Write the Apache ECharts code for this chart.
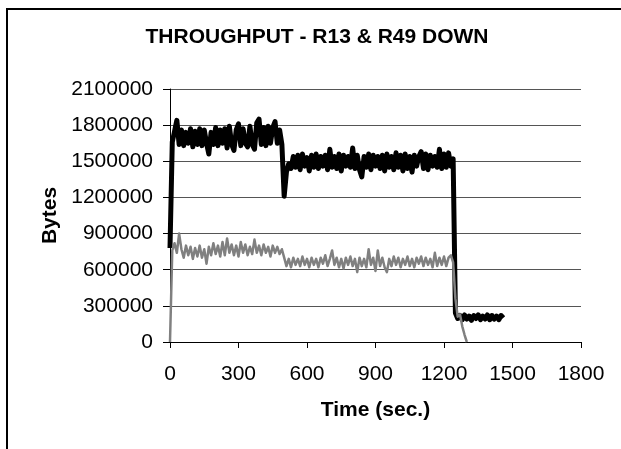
<!DOCTYPE html>
<html>
<head>
<meta charset="utf-8">
<script src="https://cdn.jsdelivr.net/npm/echarts@6/dist/echarts.min.js"></script>
<style>
  html, body { margin: 0; padding: 0; background: #fff; }
  #chart { width: 621px; height: 449px; }
</style>
</head>
<body>
<div id="chart"></div>
<script>
// 数据：每10秒一个采样点
var step = 10;
var xTicks = [0, 300, 600, 900, 1200, 1500, 1800];
var yTicks = [0, 300000, 600000, 900000, 1200000, 1500000, 1800000, 2100000];

// 黑线 (0 - 1460 s)，单位：千字节
var blackValues = [
    780,
    1660, 1750, 1840, 1640, 1760, 1630, 1740, 1650, 1770, 1620,
    1750, 1640, 1770, 1630, 1760, 1650, 1560, 1740, 1640, 1780,
    1630, 1760, 1650, 1770, 1610, 1790, 1640, 1590, 1760, 1810,
    1630, 1770, 1650, 1620, 1790, 1640, 1600, 1820, 1850, 1640,
    1780, 1630, 1790, 1650, 1780, 1830, 1650, 1760, 1640,
    1210, 1410, 1480,
    1440, 1540, 1450, 1550, 1430, 1560, 1460, 1530, 1420, 1550,
    1450, 1560, 1440, 1540, 1460, 1550, 1430, 1600, 1450, 1540,
    1440, 1560, 1420, 1550, 1460, 1540, 1450, 1610, 1440, 1550,
    1430, 1370, 1540, 1450, 1560, 1430, 1550, 1460, 1540, 1440,
    1550, 1420, 1560, 1450, 1540, 1430, 1570, 1450, 1550, 1420,
    1560, 1440, 1540, 1410, 1550, 1460, 1540, 1580, 1440, 1560,
    1430, 1550, 1460, 1540, 1450, 1600, 1440, 1560,
    1450, 1570, 1460, 1520,
    240, 195,
    220, 185, 225, 190, 215, 180, 220, 195, 225, 185,
    215, 190, 225, 185, 220, 190, 215, 185, 220, 200
];

// 灰线 (0 - 1300 s)，单位：千字节
var grayValues = [
    0, 760, 820, 740, 900, 770,
    700, 800, 720, 790, 690, 780, 710, 800, 700, 770,
    650, 790, 720, 820, 730, 800, 710, 830, 720, 860,
    740, 810, 720, 800, 710, 830, 740, 810, 720, 790,
    730, 850, 740, 800, 720, 810, 740, 790, 710, 800,
    740, 790, 730, 770,
    700, 630, 690,
    620, 700, 640, 690, 630, 710, 640, 690, 620, 700,
    640, 690, 620, 700, 650, 720, 630, 690, 760, 640,
    700, 620, 690, 610, 700, 640, 710, 630, 690, 580,
    700, 630, 690, 620, 770, 640, 700, 590, 760, 630,
    700, 620, 580, 690, 630, 710, 640, 700, 620, 690,
    640, 710, 630, 690, 620, 700, 650, 710, 630, 700,
    640, 690, 620, 740, 630, 700, 640, 710, 630, 700,
    720, 660, 360, 210, 230, 130, 60, 0
];

function toPairs(values) {
    var out = [];
    for (var i = 0; i < values.length; i++) {
        out.push([i * step, values[i] * 1000]);
    }
    return out;
}

var font = 'Liberation Sans, Arial, sans-serif';
var myChart = echarts.init(document.getElementById('chart'));

var option = {
    animation: false,
    backgroundColor: '#fff',
    graphic: [
        {
            type: 'rect',
            shape: { x: 7, y: 9, width: 1000, height: 1000 },
            style: { fill: 'none', stroke: '#000', lineWidth: 2 },
            silent: true
        },
        {
            type: 'text',
            x: 317,
            y: 37,
            style: {
                text: 'THROUGHPUT - R13 & R49 DOWN',
                font: 'bold 21px ' + font,
                fill: '#000',
                align: 'center',
                verticalAlign: 'middle'
            }
        }
    ],
    grid: { left: 170, right: 40, top: 89, bottom: 107 },
    xAxis: {
        type: 'value',
        min: xTicks[0],
        max: xTicks[xTicks.length - 1],
        interval: 300,
        name: 'Time (sec.)',
        nameLocation: 'middle',
        nameGap: 58,
        nameTextStyle: { fontFamily: font, fontSize: 21, fontWeight: 'bold', color: '#000' },
        axisLine: { lineStyle: { color: '#000', width: 1 } },
        axisTick: { inside: false, length: 6, lineStyle: { color: '#000' } },
        axisLabel: {
            fontFamily: font, fontSize: 21, color: '#000', margin: 22,
            formatter: function (v) { return String(v); }
        },
        splitLine: { show: false }
    },
    yAxis: {
        type: 'value',
        min: yTicks[0],
        max: yTicks[yTicks.length - 1],
        interval: 300000,
        name: 'Bytes',
        nameLocation: 'middle',
        nameRotate: 90,
        nameGap: 106,
        nameTextStyle: { fontFamily: font, fontSize: 21, fontWeight: 'bold', color: '#000' },
        axisLine: { show: true, lineStyle: { color: '#000', width: 1 } },
        axisTick: { show: true, length: 7, lineStyle: { color: '#000' } },
        axisLabel: {
            fontFamily: font, fontSize: 21, color: '#000', margin: 17,
            formatter: function (v) { return String(v); }
        },
        splitLine: { show: true, lineStyle: { color: '#555', width: 1 } }
    },
    series: [
        {
            name: 'black',
            type: 'line',
            data: toPairs(blackValues),
            showSymbol: false,
            lineStyle: { color: '#000', width: 5, join: 'round' }
        },
        {
            name: 'gray',
            type: 'line',
            data: toPairs(grayValues),
            showSymbol: false,
            lineStyle: { color: '#808080', width: 2.5, join: 'round' }
        }
    ]
};

myChart.setOption(option);
</script>
</body>
</html>
